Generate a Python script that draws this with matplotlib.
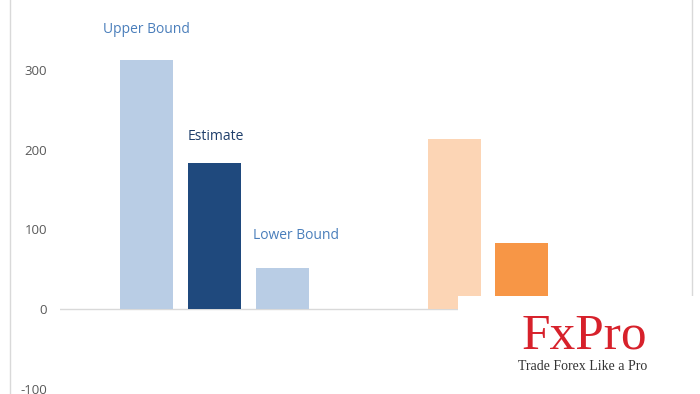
import matplotlib
matplotlib.use("Agg")
import matplotlib.pyplot as plt
from matplotlib.patches import Rectangle
from matplotlib.lines import Line2D

# Data
series_names = ["Upper Bound", "Estimate", "Lower Bound"]
group1_values = [312, 183, 51]
group2_values = [213, 83]
yticks = [-100, 0, 100, 200, 300]

blue_colors = ["#b9cde5", "#1f497d", "#b9cde5"]
orange_colors = ["#fcd5b5", "#f79646"]
label_colors = ["#4a7ebb", "#1f3f6b", "#4a7ebb"]
label_dx_px = [0, 1.5, 14]
label_dy_px = [31, 27, 33]

W, H = 700, 394
fig = plt.figure(figsize=(7, 3.94), dpi=100)

# axes spans x 60..676 px, full height
ax = fig.add_axes([60 / W, 0, (676 - 60) / W, 1])
zero_px = 309
px_per_unit = 0.797
ax.set_ylim(-(H - zero_px) / px_per_unit, zero_px / px_per_unit)
ax.set_xlim(0, 2)

cat_px = 308
step = 68 / cat_px  # bar spacing in category units
width = 53 / cat_px
for i, v in enumerate(group1_values):
    x = 0.5 + (i - 1) * step
    ax.bar(x, v, width=width, color=blue_colors[i], zorder=2)
    ax.text(x + label_dx_px[i] / cat_px, v + label_dy_px[i] / px_per_unit, series_names[i],
            ha="center", va="center", fontsize=10, color=label_colors[i], family="Open Sans")
for i, v in enumerate(group2_values):
    x = 1.5 + (i - 1) * step
    ax.bar(x, v, width=width, color=orange_colors[i], zorder=2)

ax.axhline(0, color="#d9d9d9", lw=1, zorder=1)
for s in ax.spines.values():
    s.set_visible(False)
ax.set_xticks([])
ax.set_yticks(yticks)
ax.set_yticklabels([str(t) for t in yticks], color="#595959", fontsize=9.5, family="Open Sans")
ax.tick_params(axis="y", length=0, pad=9.5)

# frame lines
fig.add_artist(Line2D([10 / W, 10 / W], [0, 1], color="#d9d9d9", lw=1))
fig.add_artist(Line2D([692 / W, 692 / W], [0, 1], color="#d9d9d9", lw=1))

# logo box
fig.add_artist(Rectangle((458 / W, 0), (W - 458) / W, (H - 296) / H,
                         facecolor="white", edgecolor="none", zorder=10))
fig.text(584 / W, 1 - 336 / H, "FxPro", ha="center", va="center", color="#d7212b",
         fontsize=37, family="Liberation Serif", zorder=11)
fig.text(583 / W, 1 - 367 / H, "Trade Forex Like a Pro", ha="center", va="center",
         color="#333333", fontsize=10, family="Liberation Serif", zorder=11)

fig.savefig("out.png", dpi=100)
